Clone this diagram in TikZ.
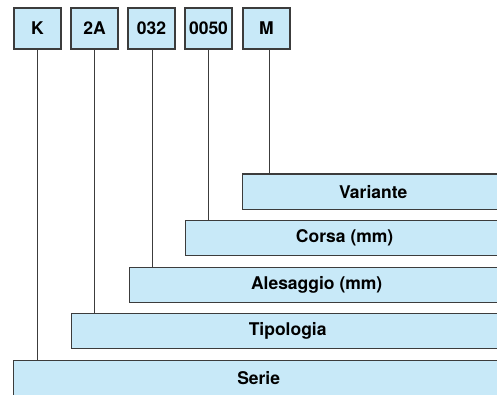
\documentclass[tikz,border=0pt]{standalone}
\usepackage{fontspec}
\setmainfont{TeX Gyre Heros}
\usetikzlibrary{positioning}
\definecolor{codeblue}{HTML}{C8E9F8}
\definecolor{codeline}{HTML}{3C3C3C}

\begin{document}
\begin{tikzpicture}[x=1pt,y=-1pt,
  codebox/.style={draw=codeline, line width=1.3pt, fill=codeblue, minimum width=47pt, minimum height=41pt, inner sep=0pt, font=\fontsize{17.5}{20}\selectfont\bfseries},
  bar/.style={draw=codeline, line width=1.3pt, fill=codeblue, anchor=north west, minimum height=35pt, inner sep=0pt, font=\fontsize{17.5}{20}\selectfont\bfseries},
  link/.style={draw=codeline, line width=1.1pt}]
\useasboundingbox (0,0) rectangle (497,395);
\clip (0,0) rectangle (497,395);

\node[codebox] (K) at (37.5,28.5) {K};
\node[codebox] (A) at (94.5,28.5) {2A};
\node[codebox] (D) at (151.5,28.5) {032};
\node[codebox] (C) at (208.5,28.5) {0050};
\node[codebox] (M) at (266.5,28.5) {M};

\node[bar, minimum width=261pt] (variante) at (242,173.5) {Variante};
\node[bar, minimum width=318pt] (corsa) at (185,219.5) {Corsa (mm)};
\node[bar, minimum width=374pt] (alesaggio) at (129,266.5) {Alesaggio (mm)};
\node[bar, minimum width=432pt] (tipologia) at (71,313) {Tipologia};
\node[bar, minimum width=490pt] (serie) at (13,360) {Serie};

\draw[link] ([xshift=3pt]M.south) -- ([xshift=3pt]M.south |- variante.north);
\draw[link] (C.south) -- (C.south |- corsa.north);
\draw[link] ([xshift=1pt]D.south) -- ([xshift=1pt]D.south |- alesaggio.north);
\draw[link] (A.south) -- (A.south |- tipologia.north);
\draw[link] (K.south) -- (K.south |- serie.north);
\end{tikzpicture}
\end{document}
